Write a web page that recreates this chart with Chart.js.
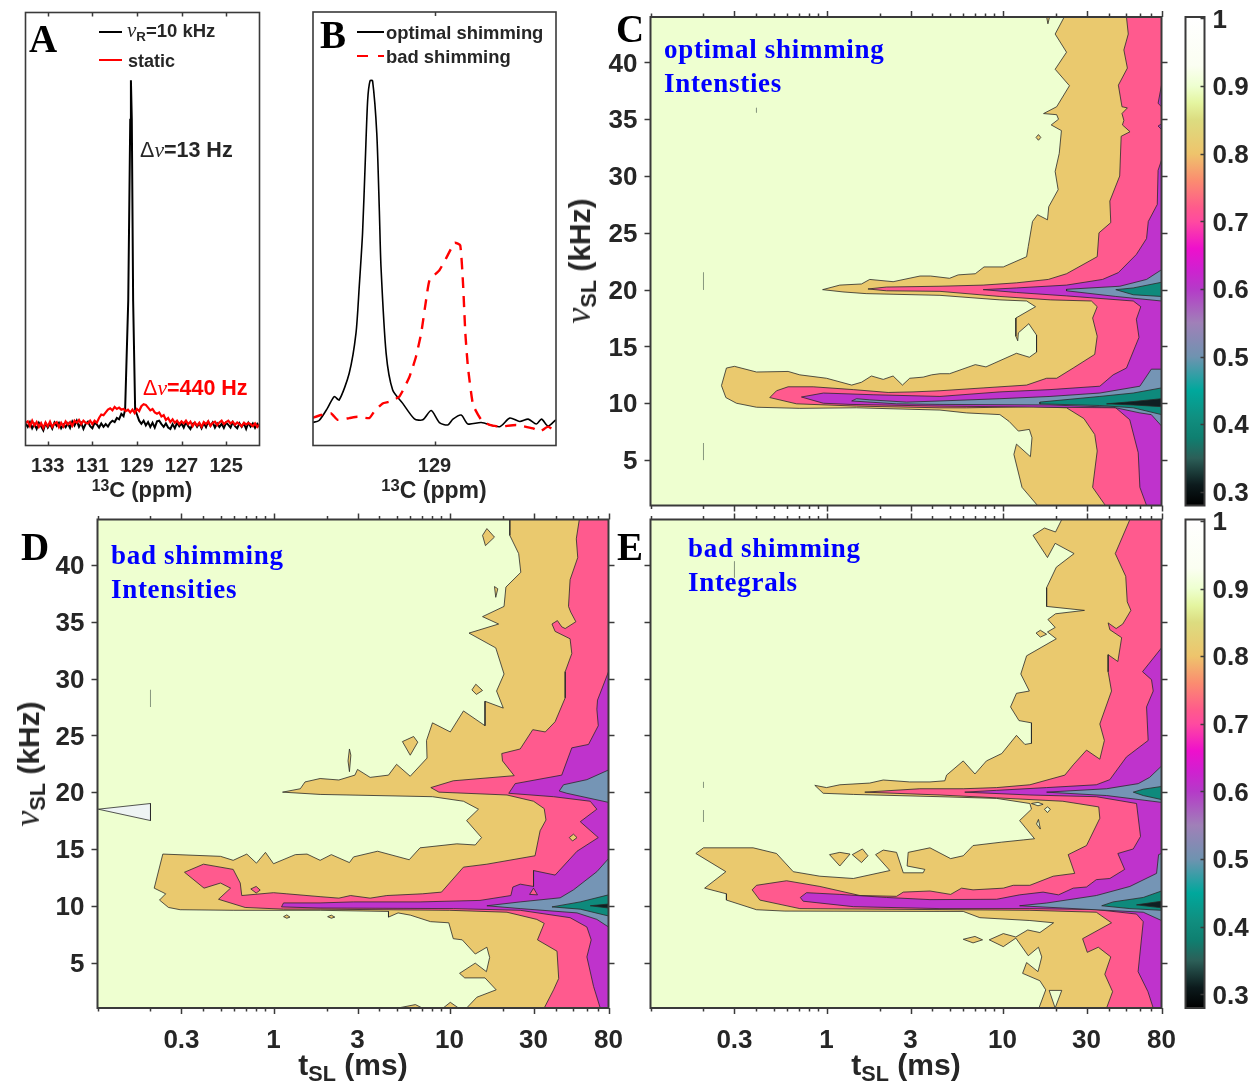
<!DOCTYPE html>
<html lang="en">
<head>
<meta charset="UTF-8">
<title>Spin-lock contour maps</title>
<script src="https://cdn.jsdelivr.net/npm/chart.js"></script>
<style>
body { margin: 0; background: #fff; }
#page { position: relative; width: 1251px; height: 1089px; overflow: hidden; }
canvas { position: absolute; left: 0; top: 0; }
.t { position: absolute; white-space: nowrap; line-height: 1; font-family: "Liberation Sans", sans-serif; font-weight: bold; color: #262626; }
.letter { font-family: "Liberation Serif", serif; font-size: 39px; color: #000; }
.blue { font-family: "Liberation Serif", serif; font-size: 27px; color: #0000ff; letter-spacing: 0.7px; }
.nu { font-family: "Liberation Serif", serif; font-style: italic; font-weight: normal; }
.sub { position: relative; font-size: 72%; top: 0.3em; }
.sup { position: relative; font-size: 72%; top: -0.4em; }
.cen { transform: translate(-50%, -50%); }
.rot { transform: translate(-50%, -50%) rotate(-90deg); }
.lg { position: absolute; height: 0; border-top: 2px solid #000; }
</style>
</head>
<body>
<div id="page">
<canvas id="pA" width="1251" height="1089"></canvas>
<canvas id="pB" width="1251" height="1089"></canvas>
<canvas id="pC" width="1251" height="1089"></canvas>
<canvas id="pD" width="1251" height="1089"></canvas>
<canvas id="pE" width="1251" height="1089"></canvas>
<canvas id="cbC" width="1251" height="1089"></canvas>
<canvas id="cbE" width="1251" height="1089"></canvas>

<div class="t letter" style="left:29px;top:19px">A</div>
<div class="t letter" style="left:320px;top:15px">B</div>
<div class="t letter" style="left:616px;top:9px">C</div>
<div class="t letter" style="left:21px;top:527px">D</div>
<div class="t letter" style="left:617px;top:527px">E</div>

<div class="lg" style="left:99px;top:31px;width:23px"></div>
<div class="t" style="left:127px;top:20px;font-size:18.5px"><span class="nu" style="font-size:21px">&nu;</span><span class="sub">R</span>=10 kHz</div>
<div class="lg" style="left:99px;top:59px;width:23px;border-color:#f00"></div>
<div class="t" style="left:128px;top:52px;font-size:18px">static</div>
<div class="t" style="left:140px;top:140px;font-size:21.5px"><span style="font-weight:normal">&Delta;</span><span class="nu">&nu;</span>=13 Hz</div>
<div class="t" style="left:143px;top:378px;font-size:21.5px;color:#f00"><span style="font-weight:normal">&Delta;</span><span class="nu">&nu;</span>=440 Hz</div>
<div class="t cen" style="left:142px;top:490px;font-size:22px"><span class="sup">13</span>C (ppm)</div>

<div class="lg" style="left:357px;top:31px;width:27px"></div>
<div class="t" style="left:386px;top:24px;font-size:18.4px">optimal shimming</div>
<div class="lg" style="left:357px;top:55px;width:11px;border-color:#f00"></div>
<div class="lg" style="left:378px;top:55px;width:6px;border-color:#f00"></div>
<div class="t" style="left:386px;top:48px;font-size:18.4px">bad shimming</div>
<div class="t cen" style="left:434px;top:490px;font-size:23px"><span class="sup">13</span>C (ppm)</div>

<div class="t blue" style="left:664px;top:36px">optimal shimming</div>
<div class="t blue" style="left:664px;top:70px">Intensties</div>
<div class="t blue" style="left:111px;top:542px">bad shimming</div>
<div class="t blue" style="left:111px;top:576px">Intensities</div>
<div class="t blue" style="left:688px;top:535px">bad shimming</div>
<div class="t blue" style="left:688px;top:569px">Integrals</div>

<div class="t rot" style="left:578px;top:261px;font-size:30px"><span class="nu" style="font-size:36px">&nu;</span><span class="sub">SL</span>&nbsp;(kHz)</div>
<div class="t rot" style="left:27px;top:764px;font-size:30px"><span class="nu" style="font-size:36px">&nu;</span><span class="sub">SL</span>&nbsp;(kHz)</div>
<div class="t cen" style="left:353px;top:1065px;font-size:30px">t<span class="sub">SL</span>&nbsp;(ms)</div>
<div class="t cen" style="left:906px;top:1065px;font-size:30px">t<span class="sub">SL</span>&nbsp;(ms)</div>
</div>

<script>
// tick values
const tslTicks = [0.3, 1, 3, 10, 30, 80];
const tslMinor = [0.1, 0.2, 0.4, 0.5, 0.6, 0.7, 0.8, 0.9, 2, 4, 5, 6, 7, 8, 9, 20, 40, 50, 60, 70];
const nuTicks = [5, 10, 15, 20, 25, 30, 35, 40];
const ppmTicksA = [133, 131, 129, 127, 125];
const ppmTicksB = [129];
const cbTicks = [0.3, 0.4, 0.5, 0.6, 0.7, 0.8, 0.9, 1];

// colour bar
const cbLevels = [1, 0.93, 0.9, 0.875, 0.85, 0.8, 0.76, 0.72, 0.7, 0.66, 0.63, 0.6, 0.55, 0.5, 0.45, 0.41, 0.38, 0.35, 0.31, 0.28];
const cbColors = ['#ffffff', '#fbfef2', '#eeffd0', '#e4f5a0', '#dcdc80', '#eec46c', '#fb8c70', '#ff5a8c', '#ff4aa0', '#ee10cc', '#d020d0', '#b53ac8', '#a080b8', '#6f93b0', '#00a89c', '#108f80', '#0f7f70', '#2c5f58', '#0c1a1c', '#000000'];

// panel A: spectra, 13C ppm vs intensity
const ppmA = [134.0,133.9,133.8,133.7,133.6,133.5,133.4,133.3,133.2,133.1,
  133.0,132.9,132.8,132.7,132.6,132.5,132.4,132.3,132.2,132.1,
  132.0,131.9,131.8,131.7,131.6,131.5,131.4,131.3,131.2,131.1,
  131.0,130.9,130.8,130.7,130.6,130.5,130.4,130.3,130.2,130.1,
  130.0,129.9,129.8,129.7,129.6,129.5,129.4,129.3,129.2,129.1,
  129.0,128.9,128.8,128.7,128.6,128.5,128.4,128.3,128.2,128.1,
  128.0,127.9,127.8,127.7,127.6,127.5,127.4,127.3,127.2,127.1,
  127.0,126.9,126.8,126.7,126.6,126.5,126.4,126.3,126.2,126.1,
  126.0,125.9,125.8,125.7,125.6,125.5,125.4,125.3,125.2,125.1,
  125.0,124.9,124.8,124.7,124.6,124.5,124.4,124.3,124.2,124.1,
  124.0,123.9,123.8,123.7,123.6,123.5];
const mas10kHz = [.004,-.006,.008,-.010,.002,-.012,.006,-.004,-.016,.005,
  -.008,.003,-.011,.007,-.003,.006,-.010,.001,-.007,.004,
  -.009,.010,-.002,.012,-.006,.005,-.012,.003,.009,-.004,
  -.010,.006,.001,-.008,.004,-.006,.002,-.005,.006,.012,
  .008,.020,.016,.032,.025,.035,.036,.036,.036,.036,
  .030,.012,.003,.012,-.002,.008,-.006,.006,-.008,.010,
  .012,.002,-.006,.004,-.008,-.012,.002,-.010,.006,-.004,
  .004,-.008,.008,-.004,-.012,.003,.006,-.006,.004,-.010,
  .005,-.007,.009,-.003,.007,-.008,.004,-.006,.003,-.009,
  .006,.000,-.008,.008,-.004,-.010,.005,-.006,.004,-.012,
  .006,-.005,.004,-.009,.003,-.006];
const staticA = [.006,.010,-.004,.012,-.002,.008,-.006,.005,-.009,.007,
  -.004,.009,-.006,.004,.008,-.007,.006,-.005,.010,.001,
  .008,-.003,.012,.006,.014,.002,.012,.006,.004,.012,
  .002,.012,.006,.020,.030,.028,.036,.044,.048,.042,
  .052,.046,.050,.044,.046,.040,.044,.036,.044,.034,
  .046,.040,.054,.060,.058,.050,.042,.046,.036,.032,
  .036,.024,.028,.014,.020,.008,.016,.006,.012,.002,
  .010,.004,.012,.002,.009,-.004,.007,-.002,.006,-.006,
  .008,.002,.010,-.003,.006,.009,-.001,.007,.012,.002,
  .008,.012,.004,.009,.000,.007,.002,-.004,.006,.001,
  .005,.002,-.004,.004,-.006,.002];
const peakPpmA = [129.53,129.39,129.30,129.27,129.23,129.17,129.08];
const peakA = [.044,.36,.886,1,.886,.36,.044];

// panel B: spectra
const ppmOptimal = [129.524,129.494,129.458,129.429,129.408,129.365,129.336,129.322,129.308,129.296,129.286,129.276,129.265,129.247,129.236,129.229,129.207,129.179,129.136,129.086,129.050,129.014,128.979,128.943,128.921,128.886,128.857,128.800,128.721,128.678,128.635,128.599,128.564,128.542,128.514,128.481];
const optimalB = [.002,.008,.044,.078,.068,.146,.263,.40,.554,.77,.944,1,1,.846,.62,.457,.204,.097,.058,.013,.010,.037,.002,-.005,.012,.024,-.002,.002,-.010,.015,.005,.012,-.002,.012,-.008,.010];
const ppmBad = [129.524,129.486,129.443,129.415,129.365,129.329,129.279,129.258,129.222,129.193,129.150,129.107,129.079,129.057,129.036,129.021,128.979,128.950,128.914,128.890,128.878,128.868,128.857,128.835,128.800,128.764,128.721,128.650,128.578,128.549,128.514,128.481];
const badB = [.015,.024,.029,.010,.015,.019,.015,.034,.058,.063,.078,.136,.195,.263,.360,.418,.447,.482,.527,.520,.409,.263,.165,.054,.010,-.005,-.010,-.005,-.015,-.024,-.010,-.024];

// contour outlines, [tSL in ms, nuSL in kHz]
const C_tan = [[22.4,44],[19.9,42.5],[23.1,40.9],[19.9,39.4],[24,37.95],[20.3,36.1],[17.1,35.5],[20.3,35.4],[20.8,35],[18.9,34.5],[21.6,34],[21,32],[19.9,30.4],[20.7,28.8],[18.3,27.3],[18,26.15],[15.8,26.6],[14.8,26],[14,23.8],[13.7,22.9],[10.1,22],[7.85,22],[7,21.4],[5.6,21.3],[5,21],[3.9,21.2],[3.4,21.2],[2.39,20.7],[1.76,20.9],[1.58,20.5],[1.19,20.4],[0.95,20],[1.24,19.8],[1.68,19.65],[4.41,19.5],[9.66,19.1],[13.7,19],[15.4,18.5],[11.9,17.5],[11.9,15.9],[12.2,15.5],[12.3,16.2],[14.1,17],[15.6,16],[15.6,14.5],[14.2,14.05],[12,14.4],[8.05,13.2],[7,13.4],[5,12.6],[4.41,12.6],[3.95,12.5],[3.54,12.3],[2.97,12.2],[2.7,11.6],[2.39,12.4],[2.1,12.1],[1.8,12.4],[1.58,11.85],[1.39,11.6],[1,12.2],[.705,12.5],[.605,12.8],[.4,12.75],[.3,13.25],[.27,13.1],[.253,11.55],[.268,10.5],[.308,10],[.4,9.65],[.705,9.55],[1.48,9.6],[4.41,9.4],[6.24,9.15],[9.66,9],[10.9,8.4],[12.3,7.55],[14.2,7.7],[14.7,6.97],[14.4,5.3],[12,6.4],[11.6,5.5],[12.9,2.6],[15.8,1],[80,1],[80,44]];
const C_tanTop = [[17.8,44],[18.1,43.4],[18.5,44]];
const C_tanDot = [[15.5,33.4],[16,33.65],[16.5,33.4],[16,33.15]];
const C_pink = [[50.6,44],[51.8,42.5],[48.9,41.1],[51.2,39.5],[45.5,38],[47.7,36.1],[51.2,36],[47.7,35.5],[48.9,34.9],[48,34.5],[53,33.9],[47.2,33.5],[46.3,30],[40.7,27.8],[41.2,25.9],[35.3,25],[34.5,22.9],[23.1,21.4],[18.2,20.9],[12,20.6],[7.76,20.4],[4.41,20.3],[2.19,20.23],[1.72,20.06],[2.19,19.9],[4.41,19.85],[9.66,19.4],[18.7,19.1],[32,19],[34.5,18.5],[32.5,17.5],[34.5,15.9],[33.4,14.3],[25.2,13.1],[20.3,12.2],[17.8,12.2],[13.7,11.6],[7.76,11.35],[4.41,11.1],[3.1,11],[2.24,10.95],[1.42,11.2],[.84,11.45],[.605,11.45],[.52,11.1],[.476,10.5],[.675,9.95],[1.48,9.75],[4.41,9.6],[6.24,9.6],[14.9,9.7],[23.1,9.6],[29,8.65],[33.4,7.25],[34.5,5.8],[32.5,2.6],[38.4,1],[80,1],[80,44]];
const C_purple = [[80,31.4],[76.5,30.5],[75.7,27.5],[67.3,26],[65.8,24.5],[57.6,23.1],[45.5,21.5],[37,20.9],[23.1,20.4],[12,20.15],[7.76,20],[12,19.75],[23.1,19.45],[55.3,19],[61,18.5],[57.6,17.4],[59.6,15.8],[50.6,13.1],[42.5,12.5],[35.7,11.5],[18.6,11.2],[9.66,11],[4.41,10.6],[1.84,10.75],[.96,10.9],[.72,10.55],[.96,10],[1.36,9.9],[4.41,9.75],[18.6,9.65],[44,9.6],[52.8,8.55],[59,5.65],[60.3,2.6],[65.8,1],[80,1]];
const C_purpleA = [[80,38],[76.5,36.4],[80,36.1]];
const C_purpleB = [[80,34.6],[76.5,34.4],[80,34.1]];
const C_slate20 = [[80,21.75],[65.8,20.9],[46.4,20.3],[23.1,20.03],[23.1,19.9],[44,19.4],[80,19]];
const C_slate10 = [[80,13],[70,13],[60.3,11.5],[35.7,10.9],[18.6,10.6],[9.66,10.4],[4.41,10.2],[2.85,10.1],[1.76,10.3],[1.48,10.4],[1.39,10.2],[2.5,9.95],[4.41,9.9],[18.6,9.85],[42.5,9.65],[60.3,9.15],[70,9],[80,8]];
const C_teal20 = [[80,20.65],[55.3,20.15],[44,20],[55.3,19.55],[80,19.4]];
const C_teal10 = [[80,11.35],[55.3,10.9],[35.7,10.6],[16.3,10.1],[16.3,9.95],[35.7,9.8],[55.3,9.6],[80,9]];
const C_black = [[80,10.4],[55.3,10.15],[39,9.95],[55.3,9.85],[80,9.7]];
const C_marks = [[[.2,21.5],[.2,20]], [[.2,6.5],[.2,5]], [[.4,36],[.4,35.6]]];

const D_tan = [[22,44],[22,42.6],[24.7,41],[25.4,39.35],[20.9,38.05],[20.4,36.35],[15.4,35.45],[19,34.8],[12.9,34],[18.3,32.7],[20.4,30.4],[18.5,28.9],[20.2,27.4],[15.9,28],[15.9,25.85],[12,27.15],[10.1,25.3],[8,26.1],[7.4,24.55],[7.45,23],[5.98,21.4],[5,22.45],[4.5,21.5],[3.54,21.3],[3,22],[2.9,21.5],[2.35,21.07],[1.84,21.2],[1.51,20.9],[1.42,20.3],[1.125,20],[1.84,19.8],[8,19.6],[12,19.2],[14.6,18.5],[12.5,17.5],[15.2,16],[14,15.35],[11,15.45],[6.8,15.1],[5.9,14.05],[3.9,14.8],[2.85,14.3],[2.7,13.8],[2.13,14.5],[1.84,14],[1.55,14.55],[1.33,14.5],[1,13.7],[.9,14.7],[.8,13.75],[.705,14.55],[.59,14],[.5,14.35],[.235,14.55],[.21,11.55],[.244,11.05],[.225,10.5],[.253,9.85],[.295,9.65],[.59,9.6],[1.84,9.6],[4.5,9.5],[4.5,9],[5.1,9.37],[6,9.17],[7.8,8.6],[9.9,8.5],[10.5,7.1],[11.8,7],[14,5.75],[16.3,6.35],[16.9,5.45],[16.2,4.2],[14,4.95],[11.4,4.05],[12.2,3.65],[15.9,3.65],[18.4,2.6],[14.3,1.95],[12.5,1],[80,1],[80,44]];
const D_tanIslands = [
  [[15.4,42.6],[16.3,43.2],[18,42.45],[16,41.7]],
  [[18,38.1],[18.8,37.9],[18.3,37.15]],
  [[13.4,29],[14.1,29.5],[15.4,28.95],[14.2,28.6]],
  [[5.4,24.45],[6.25,24.9],[6.6,24.4],[5.98,23.25]],
  [[2.7,23.8],[2.75,23.25],[2.7,21.8],[2.65,22.75]],
  [[5.1,1],[6.4,1.3],[7,1]],
  [[9.2,1],[10.1,1.5],[11.25,1]],
  [[1.14,9.04],[1.19,9.2],[1.24,9],[1.19,8.9]],
  [[2.03,9.04],[2.13,9.17],[2.23,9],[2.13,8.9]]
];
const D_pale = [[.101,18.5],[.2,19],[.2,17.5]];
const D_pink = [[54.6,44],[52.5,42.3],[53.5,40.65],[48.4,38.7],[47.4,36.35],[48.8,35.85],[52.2,35],[45.4,34.4],[43.4,34.55],[41,35.1],[38.2,34.8],[39.8,34.15],[48.4,33.5],[49.5,32.2],[45.4,30.6],[45.4,28.3],[39.8,26.2],[35,25.3],[29.7,25.5],[25.2,23.8],[19.8,23.4],[20,22.75],[23.3,21.45],[10.5,21],[7.83,20.4],[8.7,20],[21.2,19.75],[30,19.2],[34.5,18.55],[35.3,17.55],[32.7,16.6],[30.6,14.4],[16.3,13.66],[12,13.4],[9,11.2],[7,11.05],[4.4,10.9],[3.54,10.67],[2.74,10.9],[2.35,10.67],[1.84,10.8],[1.19,11.05],[1,11.15],[.66,10.9],[.647,12],[.59,13.2],[.4,13.66],[.312,12.95],[.403,11.55],[.5,12],[.57,11.55],[.487,10.57],[.69,9.85],[1.14,9.7],[1.84,9.7],[10,9.6],[21.2,9.43],[31.3,8.8],[34.5,8.45],[31.6,7],[40.8,6],[41.7,3.6],[39,2.6],[34.5,1],[80,1],[80,44]];
const D_pinkIsle = [[.743,11.48],[.797,11.7],[.84,11.38],[.797,11.12]];
const D_tanInPink = [[47.9,16],[50.6,16.3],[53,16],[50,15.7]];
const D_purple = [[80,30.6],[69.3,28.1],[68.7,27.3],[70,25.85],[61.6,24.2],[49.5,23.9],[43.4,21.5],[23.6,20.75],[21.7,19.9],[39,19.6],[63,19.2],[68.7,18.5],[55.3,17.4],[70,16],[53,14.8],[39.8,12.7],[30,13.1],[30,11.7],[25.2,11.9],[22.9,11.65],[22.3,10.9],[14.9,10.47],[6.81,10.34],[2.85,10.34],[1.84,10.25],[1.14,10.25],[1.11,9.9],[1.84,9.8],[10.5,9.75],[25.2,9.6],[48.4,8.95],[60.3,8.13],[63.8,7],[60.3,5.5],[65.8,2.9],[71.8,1],[80,1]];
const D_pinkInPurple = [[28.5,11],[30,11.55],[31.6,10.96]];
const D_slate20 = [[80,21.95],[60.3,21.1],[44.4,20.65],[42,20.1],[46.4,19.9],[80,19.1]];
const D_slate10 = [[80,14.15],[68.7,13],[50.6,11.4],[42.5,10.7],[25.2,10.34],[16.3,10],[25.2,9.75],[53,9.37],[68.7,8.8],[80,8.13]];
const D_teal = [[80,10.96],[55.3,10.34],[38.2,9.9],[55.3,9.7],[80,9.1]];
const D_black = [[80,10.15],[63,10],[80,9.8]];
const D_marks = [[[.2,29],[.2,27.5]]];

const E_tan = [[21.7,44],[20,42.9],[17.3,43.25],[14.9,42.6],[18,40.65],[19.9,41.9],[25.5,41],[20.2,39.8],[17.8,38],[17.8,36.35],[29.2,36],[20,35.7],[18.1,35.2],[19.9,34.5],[18,34.1],[20.2,33.5],[13.7,32],[12.7,30.4],[14.2,28.9],[12,28.7],[11.1,27.5],[12.4,26.3],[14.6,26.1],[14.6,24.3],[13.4,24.2],[12,25],[9.9,23.4],[8.1,22.75],[6.97,21.6],[5.98,22.75],[4.81,21.5],[4.7,21],[3.87,20.9],[2.97,20.9],[2.1,21.07],[1.76,20.8],[1.19,20.65],[1,20.4],[.858,20.6],[.957,19.9],[1.42,19.8],[4.41,19.6],[9.25,19.45],[14.3,19],[14.6,18.5],[12.5,17.5],[15.2,15.9],[13.2,15.8],[9.9,15.6],[6.8,15.3],[5.98,14.4],[5.07,14.15],[3.87,15.1],[2.91,14.7],[2.87,13.5],[3.62,13.2],[3.54,12.9],[2.73,12.9],[2.5,14.7],[2.1,14.9],[1.9,14.5],[2.29,13.1],[1.42,12.4],[.917,12.6],[.647,13],[.52,14.6],[.383,15.1],[.2,15.1],[.181,14.6],[.268,13],[.203,11.55],[.27,11.05],[.27,10.5],[.4,9.65],[.58,9.53],[4.41,9.5],[5.98,9.5],[7.43,8.95],[14.3,8.7],[19.5,8.5],[16.3,7.64],[13.9,7.87],[11.9,7.25],[10.1,7.55],[8.4,7],[10.1,6.4],[11.9,7.15],[14,5.6],[16,6.35],[16.7,5.5],[15.9,4.2],[13.7,5],[13,4.05],[16.3,3.4],[17.6,2.6],[16.1,1],[80,1],[80,44]];
const E_tanIslands = [
  [[15.5,34],[16.4,34.25],[17.8,33.9],[16.4,33.65]],
  [[1.04,14.5],[1.19,14.7],[1.36,14.55],[1.19,13.5]],
  [[1.4,14.5],[1.6,15],[1.72,14.4],[1.58,13.8]],
  [[5.98,7.05],[6.97,7.3],[7.7,7],[6.8,6.73]]
];
const E_paleIslands = [
  [[18.4,2.55],[21.7,2.55],[19.9,1]],
  [[14.6,19],[15.9,19.1],[17,18.93],[15.9,18.8]],
  [[17.3,18.5],[18,18.7],[18.7,18.5],[18,18.2]],
  [[15.6,17.2],[16,17.6],[16.4,16.75]]
];
const E_pink = [[52.9,44],[43.7,41],[50.1,39],[51.1,36.75],[53.6,36],[48.2,34.8],[44.2,34.4],[39.8,34.9],[40.7,34.3],[47.5,33.6],[45.2,31.5],[39.8,32.1],[39.8,30.6],[41.6,28.9],[35.7,26],[37.9,24.55],[35.7,22.9],[30,23.7],[25.2,22.4],[22.6,21.5],[14.3,20.65],[9.25,20.4],[5.98,20.3],[3.39,20.3],[1.65,20],[4.41,19.75],[9.25,19.5],[22,19.2],[35.2,18.7],[35.7,17.7],[30,15.3],[23.6,14.5],[25.7,12.85],[19.4,12.6],[14.3,11.8],[11.5,11.8],[10.1,11.55],[6.8,11.4],[5.85,11.55],[5.07,11],[3.87,11.3],[2.73,11.2],[2.5,10.83],[1.55,10.9],[.917,11.7],[.593,12.2],[.4,11.8],[.378,11.4],[.418,10.5],[.705,9.75],[4.41,9.66],[14.3,9.6],[34.1,9.43],[41.6,8.5],[28.5,7.1],[30.3,5.9],[35,6.35],[41.2,5.5],[38.1,3.97],[42.2,2.44],[39,1],[80,1],[80,44]];
const E_purple = [[80,32.7],[62.4,30.6],[70.2,29.9],[71.8,28.9],[65.8,27.5],[67.2,24.55],[50.6,23.1],[40.7,21.1],[34.1,20.65],[17.8,20.4],[9.25,20.16],[6.1,20],[14.3,19.75],[34.1,19.6],[57.7,19],[60.8,16.1],[55.3,15],[45.2,14.6],[49.4,13.2],[40.7,12.4],[34.1,12.3],[30,11.65],[25.2,11.55],[20.8,10.96],[17,11.2],[12.5,10.96],[9.25,10.57],[3.87,10.54],[2.19,10.73],[1.19,11],[.77,11.15],[.71,10.73],[.737,10.4],[1.42,9.92],[4.41,9.75],[14.3,9.75],[34.1,9.66],[57.7,9.27],[63,8.6],[58.9,4.2],[67,2.44],[71.8,1],[80,1]];
const E_slate20 = [[80,22.3],[68.5,21.3],[59,20.75],[39,20.3],[17.8,20],[39,19.7],[80,19.1]];
const E_slate10 = [[80,14.6],[77,14.5],[75,12.85],[52.9,11.7],[34.1,10.9],[17.8,10.24],[12.5,10],[22,9.8],[63,9.43],[80,8.7]];
const E_teal20 = [[80,20.5],[63,20.26],[55.3,20],[63,19.7],[80,19.35]];
const E_teal10 = [[80,11.3],[63,10.73],[42.5,10.34],[36.6,10],[52.9,9.75],[80,9.6]];
const E_black = [[80,10.4],[57.7,10.08],[80,9.82]];
const E_marks = [[[.2,20.9],[.2,20.4]], [[.2,18.4],[.2,17.4]], [[.3,40.3],[.3,38.9]]];

const pale = '#eeffd0', tan = '#eac96e', pink = '#ff5a8e', purple = '#bf33cc', slate = '#7595b5', teal = '#0e8a7c', dark = '#0f1f22';
const plane = [[.1,1],[80,1],[80,44],[.1,44]];
const textColor = '#262626';
const tickFont = { family: 'Liberation Sans', weight: 'bold', size: 26 };
const gutter = 50;

// ticks and box round the plot, placed through the chart's own scales
const framePlugin = {
  id: 'frame',
  afterDraw(chart, args, o) {
    const { ctx, chartArea: a, scales } = chart;
    const dir = o.inward ? 1 : -1;
    ctx.save();
    ctx.strokeStyle = '#3a3a3a';
    ctx.lineWidth = 1.5;
    const tick = (x0, y0, x1, y1) => { ctx.beginPath(); ctx.moveTo(x0, y0); ctx.lineTo(x1, y1); ctx.stroke(); };
    const xTicks = (vals, len) => (vals || []).forEach(v => {
      const p = Math.round(scales.x.getPixelForValue(v)) + .5;
      tick(p, a.bottom, p, a.bottom - dir * len);
      tick(p, a.top, p, a.top + dir * len);
    });
    const yTicks = (vals, len) => (vals || []).forEach(v => {
      const p = Math.round(scales.y.getPixelForValue(v)) + .5;
      if (!o.rightOnly) tick(a.left, p, a.left + dir * len, p);
      tick(a.right, p, a.right - dir * len, p);
    });
    xTicks(o.xMajor, o.major);
    xTicks(o.xMinor, o.minor);
    yTicks(o.yMajor, o.major);
    ctx.lineWidth = o.boxWidth || 2;
    ctx.strokeRect(a.left, a.top, a.right - a.left, a.bottom - a.top);
    ctx.restore();
  }
};

function area(pts, color, noLine) {
  return {
    data: pts.concat([pts[0]]).map(p => ({ x: p[0], y: p[1] })),
    showLine: true, fill: 'shape', backgroundColor: color,
    borderColor: noLine ? color : '#2a2a2a', borderWidth: noLine ? 0 : 0.8,
    pointRadius: 0, tension: 0
  };
}
function mark(pts) {
  return { data: pts.map(p => ({ x: p[0], y: p[1] })), showLine: true, fill: false, borderColor: '#8a9a80', borderWidth: 1, pointRadius: 0 };
}
// earlier entries are painted first
function painted(list) {
  list.forEach((d, i) => { d.order = list.length - i; });
  return list;
}

// scales keep a fixed gutter for their labels, the rest of the margin is padding
function box(left, top, right, bottom) {
  return { left: left - gutter, top, right: 1251 - right, bottom: 1089 - bottom - gutter };
}
function fixX(s) { s.height = gutter; s.paddingLeft = 0; s.paddingRight = 0; }
function fixY(s) { s.width = gutter; s.paddingTop = 0; s.paddingBottom = 0; }

function contourChart(id, pad, datasets, showX, showY) {
  new Chart(document.getElementById(id), {
    type: 'scatter',
    data: { datasets: painted(datasets) },
    plugins: [framePlugin],
    options: {
      responsive: false, animation: false, events: [],
      layout: { padding: pad, autoPadding: false },
      plugins: {
        legend: { display: false }, tooltip: { enabled: false },
        frame: { xMajor: tslTicks, xMinor: tslMinor, yMajor: nuTicks, major: 6, minor: 3.5 }
      },
      scales: {
        x: {
          type: 'logarithmic', min: 0.1, max: 80, grid: { display: false, drawTicks: false }, border: { display: false },
          afterFit: fixX,
          afterBuildTicks: s => { s.ticks = tslTicks.map(v => ({ value: v })); },
          ticks: { display: showX, autoSkip: false, maxRotation: 0, padding: 17, color: textColor, font: tickFont, callback: v => String(v) }
        },
        y: {
          type: 'linear', min: 1, max: 44, grid: { display: false, drawTicks: false }, border: { display: false },
          afterFit: fixY,
          afterBuildTicks: s => { s.ticks = nuTicks.map(v => ({ value: v })); },
          ticks: { display: showY, autoSkip: false, padding: 13, labelOffset: 2, color: textColor, font: tickFont }
        }
      }
    }
  });
}

function spectrumChart(id, pad, xMin, xMax, yMin, yMax, xTicks, datasets) {
  new Chart(document.getElementById(id), {
    type: 'scatter',
    data: { datasets: painted(datasets) },
    plugins: [framePlugin],
    options: {
      responsive: false, animation: false, events: [],
      layout: { padding: pad, autoPadding: false },
      plugins: {
        legend: { display: false }, tooltip: { enabled: false },
        frame: { xMajor: xTicks, major: 4, inward: true, boxWidth: 1.6 }
      },
      scales: {
        x: {
          type: 'linear', reverse: true, min: xMin, max: xMax, grid: { display: false, drawTicks: false }, border: { display: false },
          afterFit: fixX,
          afterBuildTicks: s => { s.ticks = xTicks.map(v => ({ value: v })); },
          ticks: { autoSkip: false, maxRotation: 0, padding: 9, color: textColor, font: { family: 'Liberation Sans', weight: 'bold', size: 20 }, callback: v => String(v) }
        },
        y: {
          type: 'linear', min: yMin, max: yMax, grid: { display: false, drawTicks: false }, border: { display: false },
          afterFit: fixY, ticks: { display: false }
        }
      }
    }
  });
}

function spectrumLine(xs, ys, color, width, dash, tension) {
  return { data: xs.map((x, i) => ({ x, y: ys[i] })), showLine: true, fill: false, borderColor: color, borderWidth: width, borderDash: dash || [], pointRadius: 0, tension: tension || 0 };
}

function colorbar(id, left, top, right, bottom) {
  new Chart(document.getElementById(id), {
    type: 'bar',
    data: {
      labels: [''],
      datasets: [{
        data: [[0.28, 1.002]], barPercentage: 1, categoryPercentage: 1,
        backgroundColor: ctx => {
          const y = ctx.chart.scales.y;
          const y0 = y ? y.getPixelForValue(1) : NaN, y1 = y ? y.getPixelForValue(0.28) : NaN;
          if (!isFinite(y0) || !isFinite(y1)) return '#fff';
          const g = ctx.chart.ctx.createLinearGradient(0, y0, 0, y1);
          cbLevels.forEach((v, i) => g.addColorStop((1 - v) / 0.72, cbColors[i]));
          return g;
        }
      }]
    },
    plugins: [framePlugin],
    options: {
      responsive: false, animation: false, events: [],
      layout: { padding: { left, top, right: 1251 - right - 46, bottom: 1089 - bottom }, autoPadding: false },
      plugins: {
        legend: { display: false }, tooltip: { enabled: false },
        frame: { yMajor: cbTicks, major: 4, inward: true, rightOnly: true }
      },
      scales: {
        x: { display: false },
        y: {
          position: 'right', min: 0.28, max: 1.002, grid: { display: false, drawTicks: false }, border: { display: false },
          afterFit: s => { s.width = 46; s.paddingTop = 0; s.paddingBottom = 0; },
          afterBuildTicks: s => { s.ticks = cbTicks.map(v => ({ value: v })); },
          ticks: { autoSkip: false, padding: 8, labelOffset: 2, color: textColor, font: tickFont, callback: v => String(v) }
        }
      }
    }
  });
}

// panel A, black trace skips the grid points under the sharp peak
const blackPts = ppmA.map((x, i) => [x, mas10kHz[i]]).filter(p => p[0] > 129.55 || p[0] < 129.05)
  .concat(peakPpmA.map((x, i) => [x, peakA[i]])).sort((a, b) => b[0] - a[0]);
spectrumChart('pA', box(25.5, 12.5, 259.5, 445.5), 123.5, 134, -0.06, 1.197, ppmTicksA, [
  spectrumLine(blackPts.map(p => p[0]), blackPts.map(p => p[1]), '#000', 2),
  spectrumLine(ppmA, staticA, '#f00', 2.2)
]);

spectrumChart('pB', box(313, 12, 556, 445.5), 128.48, 129.52, -0.065, 1.201, ppmTicksB, [
  spectrumLine(ppmOptimal, optimalB, '#000', 1.6, null, 0.25),
  spectrumLine(ppmBad, badB, '#f00', 2.4, [11, 8], 0.15)
]);

contourChart('pC', box(650.5, 17, 1161.5, 505.5), [
  area(plane, pale, true), area(C_tan, tan), area(C_tanTop, tan), area(C_tanDot, tan),
  area(C_pink, pink), area(C_purple, purple), area(C_purpleA, purple), area(C_purpleB, purple),
  area(C_slate20, slate), area(C_slate10, slate), area(C_teal20, teal), area(C_teal10, teal), area(C_black, dark),
  ...C_marks.map(mark)
], false, true);

contourChart('pD', box(97.5, 519.5, 608.5, 1008), [
  area(plane, pale, true), area(D_pale, '#eef4f4'), area(D_tan, tan), ...D_tanIslands.map(p => area(p, tan)),
  area(D_pink, pink), area(D_pinkIsle, pink), area(D_tanInPink, tan), area(D_purple, purple), area(D_pinkInPurple, pink),
  area(D_slate20, slate), area(D_slate10, slate), area(D_teal, teal), area(D_black, dark),
  ...D_marks.map(mark)
], true, true);

contourChart('pE', box(650.5, 519.5, 1161.5, 1008), [
  area(plane, pale, true), area(E_tan, tan), ...E_tanIslands.map(p => area(p, tan)), ...E_paleIslands.map(p => area(p, pale)),
  area(E_pink, pink), area(E_purple, purple),
  area(E_slate20, slate), area(E_slate10, slate), area(E_teal20, teal), area(E_teal10, teal), area(E_black, dark),
  ...E_marks.map(mark)
], true, false);

colorbar('cbC', 1185.5, 17, 1204.5, 505.5);
colorbar('cbE', 1185.5, 519.5, 1204.5, 1008);
</script>
</body>
</html>
